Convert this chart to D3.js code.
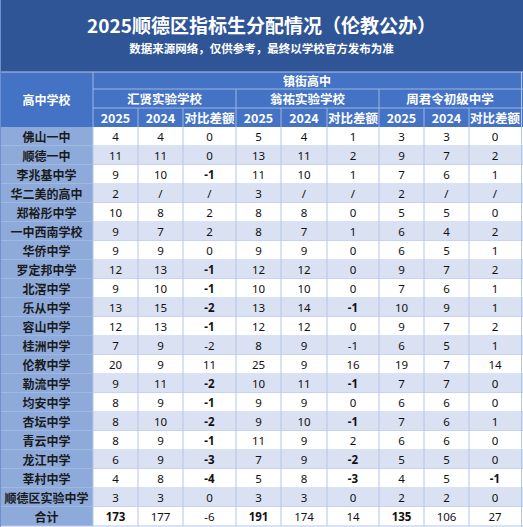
<!DOCTYPE html><html><head><meta charset="utf-8"><script src="https://cdn.jsdelivr.net/npm/d3@7"></script>
<style>body{margin:0;background:#fff}</style></head><body><svg id="c" width="523" height="527"></svg>
<script>
const title="2025顺德区指标生分配情况（伦教公办）";
const subtitle="数据来源网络，仅供参考，最终以学校官方发布为准";
const groupTitle="镇街高中";
const firstHeader="高中学校";
const middleSchools=["汇贤实验学校","翁祐实验学校","周君令初级中学"];
const subHeaders=["2025","2024","对比差额"];
const schools=["佛山一中","顺德一中","李兆基中学","华二美的高中","郑裕彤中学","一中西南学校","华侨中学","罗定邦中学","北滘中学","乐从中学","容山中学","桂洲中学","伦教中学","勒流中学","均安中学","杏坛中学","青云中学","龙江中学","莘村中学","顺德区实验中学","合计"];
const huixian=[["4","4","0"],["11","11","0"],["9","10","-1"],["2","/","/"],["10","8","2"],["9","7","2"],["9","9","0"],["12","13","-1"],["9","10","-1"],["13","15","-2"],["12","13","-1"],["7","9","-2"],["20","9","11"],["9","11","-2"],["8","9","-1"],["8","10","-2"],["8","9","-1"],["6","9","-3"],["4","8","-4"],["3","3","0"],["173","177","-6"]];
const wengyou=[["5","4","1"],["13","11","2"],["11","10","1"],["3","/","/"],["8","8","0"],["8","7","1"],["9","9","0"],["12","12","0"],["10","10","0"],["13","14","-1"],["12","12","0"],["8","9","-1"],["25","9","16"],["10","11","-1"],["9","9","0"],["9","10","-1"],["11","9","2"],["7","9","-2"],["5","8","-3"],["3","3","0"],["191","174","14"]];
const zhoujunling=[["3","3","0"],["9","7","2"],["7","6","1"],["2","/","/"],["5","5","0"],["6","4","2"],["6","5","1"],["9","7","2"],["7","6","1"],["10","9","1"],["9","7","2"],["6","5","1"],["19","7","14"],["7","7","0"],["6","6","0"],["7","6","1"],["6","6","0"],["5","5","0"],["4","5","-1"],["2","2","0"],["135","106","27"]];
const plainNegRows=["桂洲中学","合计"];

const svg=d3.select("#c");
const W=523, colEdges=[0,93,138,183,236,281,327,379,424,469,521];
const fontF="'Noto Sans CJK SC','Noto Sans',sans-serif";
const y=d3.scaleBand().domain(schools).range([127,526]);
const cx=i=>(colEdges[i]+colEdges[i+1])/2;
// title band
svg.append("rect").attr("x",0).attr("y",0).attr("width",W).attr("height",72).attr("fill","#2f5597");
svg.append("text").attr("x",W/2).attr("y",33).attr("text-anchor","middle").attr("fill","#fff").attr("font-family",fontF).attr("font-weight","bold").attr("font-size",19).text(title);
svg.append("text").attr("x",W/2).attr("y",53).attr("text-anchor","middle").attr("fill","#fff").attr("font-family",fontF).attr("font-weight","bold").attr("font-size",11.5).text(subtitle);
// header
svg.append("rect").attr("x",0).attr("y",72).attr("width",W).attr("height",55).attr("fill","#4472c4");
const hl="#9db5e3";
const line=(x1,y1,x2,y2,c)=>svg.append("line").attr("x1",x1).attr("y1",y1).attr("x2",x2).attr("y2",y2).attr("stroke",c).attr("stroke-width",1);
line(0,72,W,72,"#b4c6e7");
line(93,89,W,89,hl); line(93,108,W,108,hl);
line(93,72,93,127,hl);
[236,379].forEach(x=>line(x,89,x,127,hl));
[138,183,281,327,424,469].forEach(x=>line(x,108,x,127,hl));
const ht=(x,yy,t,s)=>svg.append("text").attr("x",x).attr("y",yy).attr("text-anchor","middle").attr("dominant-baseline","central").attr("fill","#fff").attr("font-family",fontF).attr("font-weight","bold").attr("font-size",s).text(t);
ht(46.5,99.5,firstHeader,12);
ht((93+521)/2,80.5,groupTitle,12);
middleSchools.forEach((s,i)=>ht((colEdges[1+3*i]+colEdges[4+3*i])/2,98.5,s,12.5));
for(let g=0;g<3;g++) subHeaders.forEach((s,j)=>ht(cx(1+3*g+j),117.5,s,12.5));
// body
const data=[huixian,wengyou,zhoujunling];
schools.forEach((s,r)=>{
  const yy=y(s),h=y.bandwidth();
  svg.append("rect").attr("x",93).attr("y",yy).attr("width",W-93).attr("height",h).attr("fill",r%2?"#d9e1f2":"#fff");
  svg.append("rect").attr("x",0).attr("y",yy).attr("width",93).attr("height",h).attr("fill","#8eaadb");
  line(0,yy+h,W,yy+h,"#b4c6e7");
  svg.append("text").attr("x",46.5).attr("y",yy+h/2).attr("text-anchor","middle").attr("dominant-baseline","central").attr("fill","#1a1a1a").attr("font-family",fontF).attr("font-weight","bold").attr("font-size",12).text(s);
  data.forEach((arr,g)=>arr[r].forEach((v,j)=>{
    const bold=(j===2&&v.startsWith("-")&&!plainNegRows.includes(s))||(s==="合计"&&j===0);
    svg.append("text").attr("x",cx(1+3*g+j)).attr("y",yy+h/2).attr("text-anchor","middle").attr("dominant-baseline","central").attr("fill","#111").attr("font-family","'Noto Sans',sans-serif").attr("font-weight",bold?"bold":"normal").attr("font-size",11.5).text(v);
  }));
});
colEdges.slice(1,-1).forEach(x=>line(x,127,x,526,"#b4c6e7"));
line(0.5,0,0.5,527,"#6f8fcf"); line(W-1.5,72,W-1.5,527,"#b4c6e7");
</script></body></html>
